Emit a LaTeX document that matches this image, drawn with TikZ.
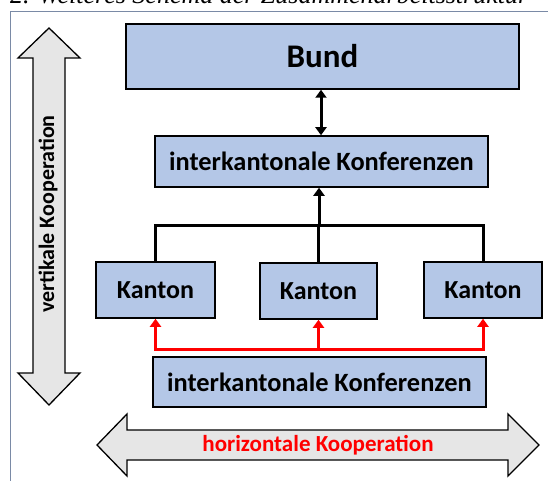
\documentclass[tikz,border=0pt]{standalone}
\usepackage{fontspec}
\setmainfont{Carlito}
\newfontfamily\capfont{Liberation Serif}
\usetikzlibrary{arrows.meta}
\definecolor{boxblue}{HTML}{B4C7E7}
\definecolor{arrgray}{HTML}{E6E6E6}
\definecolor{framec}{HTML}{7A8AA6}
\definecolor{kred}{HTML}{FF0000}
\tikzset{
  box/.style={draw=black, line width=1.5pt, fill=boxblue, inner sep=0pt, font=\bfseries},
  tree/.style={draw=black, line width=3pt},
  redline/.style={draw=kred, line width=3pt},
  bigarrow/.style={draw=black, line width=1.3pt, fill=arrgray, line join=miter},
  tip/.style={-{Triangle[length=8pt,width=11pt]}},
}
\begin{document}
\begin{tikzpicture}[x=1pt,y=-1pt]
\useasboundingbox (0,0) rectangle (548,481);
\begin{scope}
\clip (0,0) rectangle (548,481);
\node[anchor=base west, inner sep=0pt, font=\capfont\itshape\fontsize{26}{30}\selectfont] (cap) at (10,4) {2. Weiteres Schema der Zusammenarbeitsstruktur};
\end{scope}
% frame
\draw[framec, line width=1pt] (10,481) -- (10,12) -- (548,12);
% big arrows
\draw[bigarrow] (49,28) -- (80,58) -- (65,58) -- (65,373) -- (80,373) -- (49,405) -- (18,373) -- (33,373) -- (33,58) -- (18,58) -- cycle;
\node[rotate=90, font=\bfseries\fontsize{22}{26}\selectfont] (vk) at (48,214) {vertikale Kooperation};
\draw[bigarrow] (97,445) -- (127,414) -- (127,430) -- (508,430) -- (508,414) -- (539,445) -- (508,476) -- (508,460) -- (127,460) -- (127,476) -- cycle;
\node[font=\bfseries\fontsize{23}{26}\selectfont, text=kred] (hk) at (318,445) {horizontale Kooperation};
% boxes
\node[box, minimum width=393pt, minimum height=65pt, font=\bfseries\fontsize{33}{36}\selectfont] (bund) at (322.5,56.5) {Bund};
\node[box, minimum width=333pt, minimum height=51pt, font=\bfseries\fontsize{26.4}{30}\selectfont] (conf1) at (321.5,161.5) {interkantonale Konferenzen};
\node[box, minimum width=119pt, minimum height=56pt, font=\bfseries\fontsize{26}{30}\selectfont] (k1) at (155.5,290) {Kanton};
\node[box, minimum width=117pt, minimum height=56pt, font=\bfseries\fontsize{26}{30}\selectfont] (k2) at (318.5,291) {Kanton};
\node[box, minimum width=118pt, minimum height=56pt, font=\bfseries\fontsize{26}{30}\selectfont] (k3) at (483,290) {Kanton};
\node[box, minimum width=333pt, minimum height=50pt, font=\bfseries\fontsize{26.4}{30}\selectfont] (conf2) at (319.5,382) {interkantonale Konferenzen};
% connectors
\draw[tree, {Triangle[length=8pt,width=11pt]}-{Triangle[length=8pt,width=11pt]}] (bund.south -| 321,0) -- (conf1.north -| 321,0);
\coordinate (j) at (319,225);
\draw[tree] (k1.north) |- (j) -| (k3.north);
\draw[tree] (k2.north) -- (k2.north |- j);
\draw[tree, tip] (j) -- (j |- conf1.south);
\coordinate (r) at (319,349);
\draw[redline, {Triangle[length=8pt,width=11pt]}-{Triangle[length=8pt,width=11pt]}] (k1.south) |- (r) -| (k3.south);
\draw[redline, tip] (k2.south |- r) -- (k2.south);
\end{tikzpicture}
\end{document}
